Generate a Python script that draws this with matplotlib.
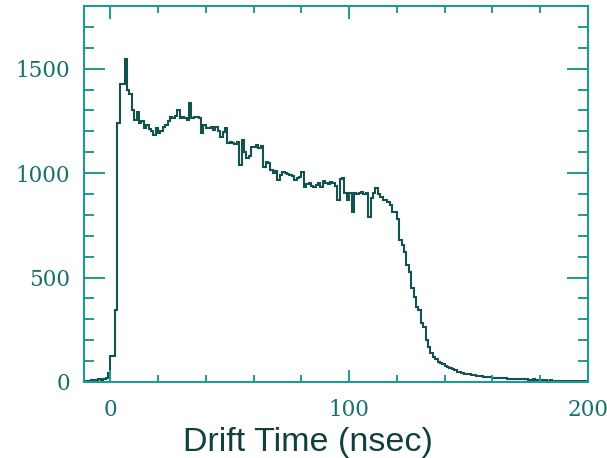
import numpy as np
import matplotlib
matplotlib.use('Agg')
import matplotlib.pyplot as plt
from matplotlib.ticker import MultipleLocator

# drift time histogram, 1 ns bins from -10 to 200 ns
bin_lo = -10
bin_width = 1
counts = [
    5, 5, 8, 6, 10, 12, 10, 15, 18, 43,                          # -10 .. -1
    125, 125, 345, 1242, 1424, 1424, 1544, 1400, 1380, 1300,      # 0 .. 9
    1256, 1290, 1240, 1250, 1218, 1230, 1210, 1200, 1180, 1215,   # 10 ..
    1190, 1200, 1222, 1230, 1250, 1270, 1265, 1275, 1304, 1265,   # 20 ..
    1268, 1262, 1255, 1337, 1265, 1270, 1268, 1265, 1193, 1230,   # 30 ..
    1218, 1215, 1220, 1205, 1220, 1200, 1175, 1195, 1218, 1145,   # 40 ..
    1150, 1145, 1140, 1150, 1040, 1160, 1100, 1074, 1080, 1127,   # 50 ..
    1127, 1136, 1120, 1130, 1030, 1055, 1050, 1016, 1002, 1010,   # 60 ..
    968, 990, 1007, 1002, 995, 992, 985, 968, 975, 980,           # 70 ..
    1007, 935, 950, 954, 940, 935, 945, 954, 935, 960,            # 80 ..
    954, 950, 955, 954, 940, 873, 973, 978, 906, 873,             # 90 ..
    906, 815, 906, 900, 906, 910, 900, 906, 791, 880,             # 100 ..
    906, 930, 900, 887, 873, 870, 860, 849, 815, 815,             # 110 ..
    780, 681, 657, 620, 560, 527, 450, 408, 360, 345,             # 120 ..
    280, 264, 200, 168, 140, 120, 110, 95, 91, 85,                # 130 ..
    75, 70, 67, 60, 55, 50, 48, 44, 40, 38,                       # 140 ..
    36, 34, 34, 30, 28, 27, 25, 24, 24, 22,                       # 150 ..
    20, 19, 20, 18, 17, 18, 16, 15, 16, 14,                       # 160 ..
    15, 13, 14, 12, 15, 11, 10, 12, 9, 10,                        # 170 ..
    9, 8, 10, 7, 8, 7, 6, 7, 5, 6,                                # 180 ..
    5, 6, 5, 4, 5, 4, 5, 4, 5, 4,                                 # 190 ..
]
edges = bin_lo + bin_width * np.arange(len(counts) + 1)

frame = '#1f9994'
line_col = '#12524f'

fig = plt.figure(figsize=(6.07, 4.58), dpi=100)
ax = fig.add_axes([0.1384, 0.166, 0.8303, 0.821])

ax.stairs(counts, edges, color=line_col, linewidth=1.5)

ax.set_xlim(-11, 200)
ax.set_ylim(0, 1800)

ax.xaxis.set_major_locator(MultipleLocator(100))
ax.xaxis.set_minor_locator(MultipleLocator(20))
ax.yaxis.set_major_locator(MultipleLocator(500))
ax.yaxis.set_minor_locator(MultipleLocator(100))

for s in ax.spines.values():
    s.set_color(frame)
    s.set_linewidth(1.5)

ax.tick_params(which='both', direction='in', top=True, right=True,
               color=frame, width=1.4, labelcolor='#17706b')
ax.tick_params(axis='x', which='major', length=9, pad=12, labelsize=15.5)
ax.tick_params(axis='x', which='minor', length=5)
ax.tick_params(axis='y', which='major', length=15, pad=10, labelsize=15.5)
ax.tick_params(axis='y', which='minor', length=7)
for lab in ax.get_xticklabels() + ax.get_yticklabels():
    lab.set_family('DejaVu Serif')

# axis label sits a little left of centre in the original
ax.set_xlabel('Drift Time (nsec)', family='Liberation Sans', fontsize=24.5,
              color='#103f3d')
ax.xaxis.set_label_coords(0.445, -0.12)
ax.xaxis.label.set_va('top')

fig.savefig('out.png')
